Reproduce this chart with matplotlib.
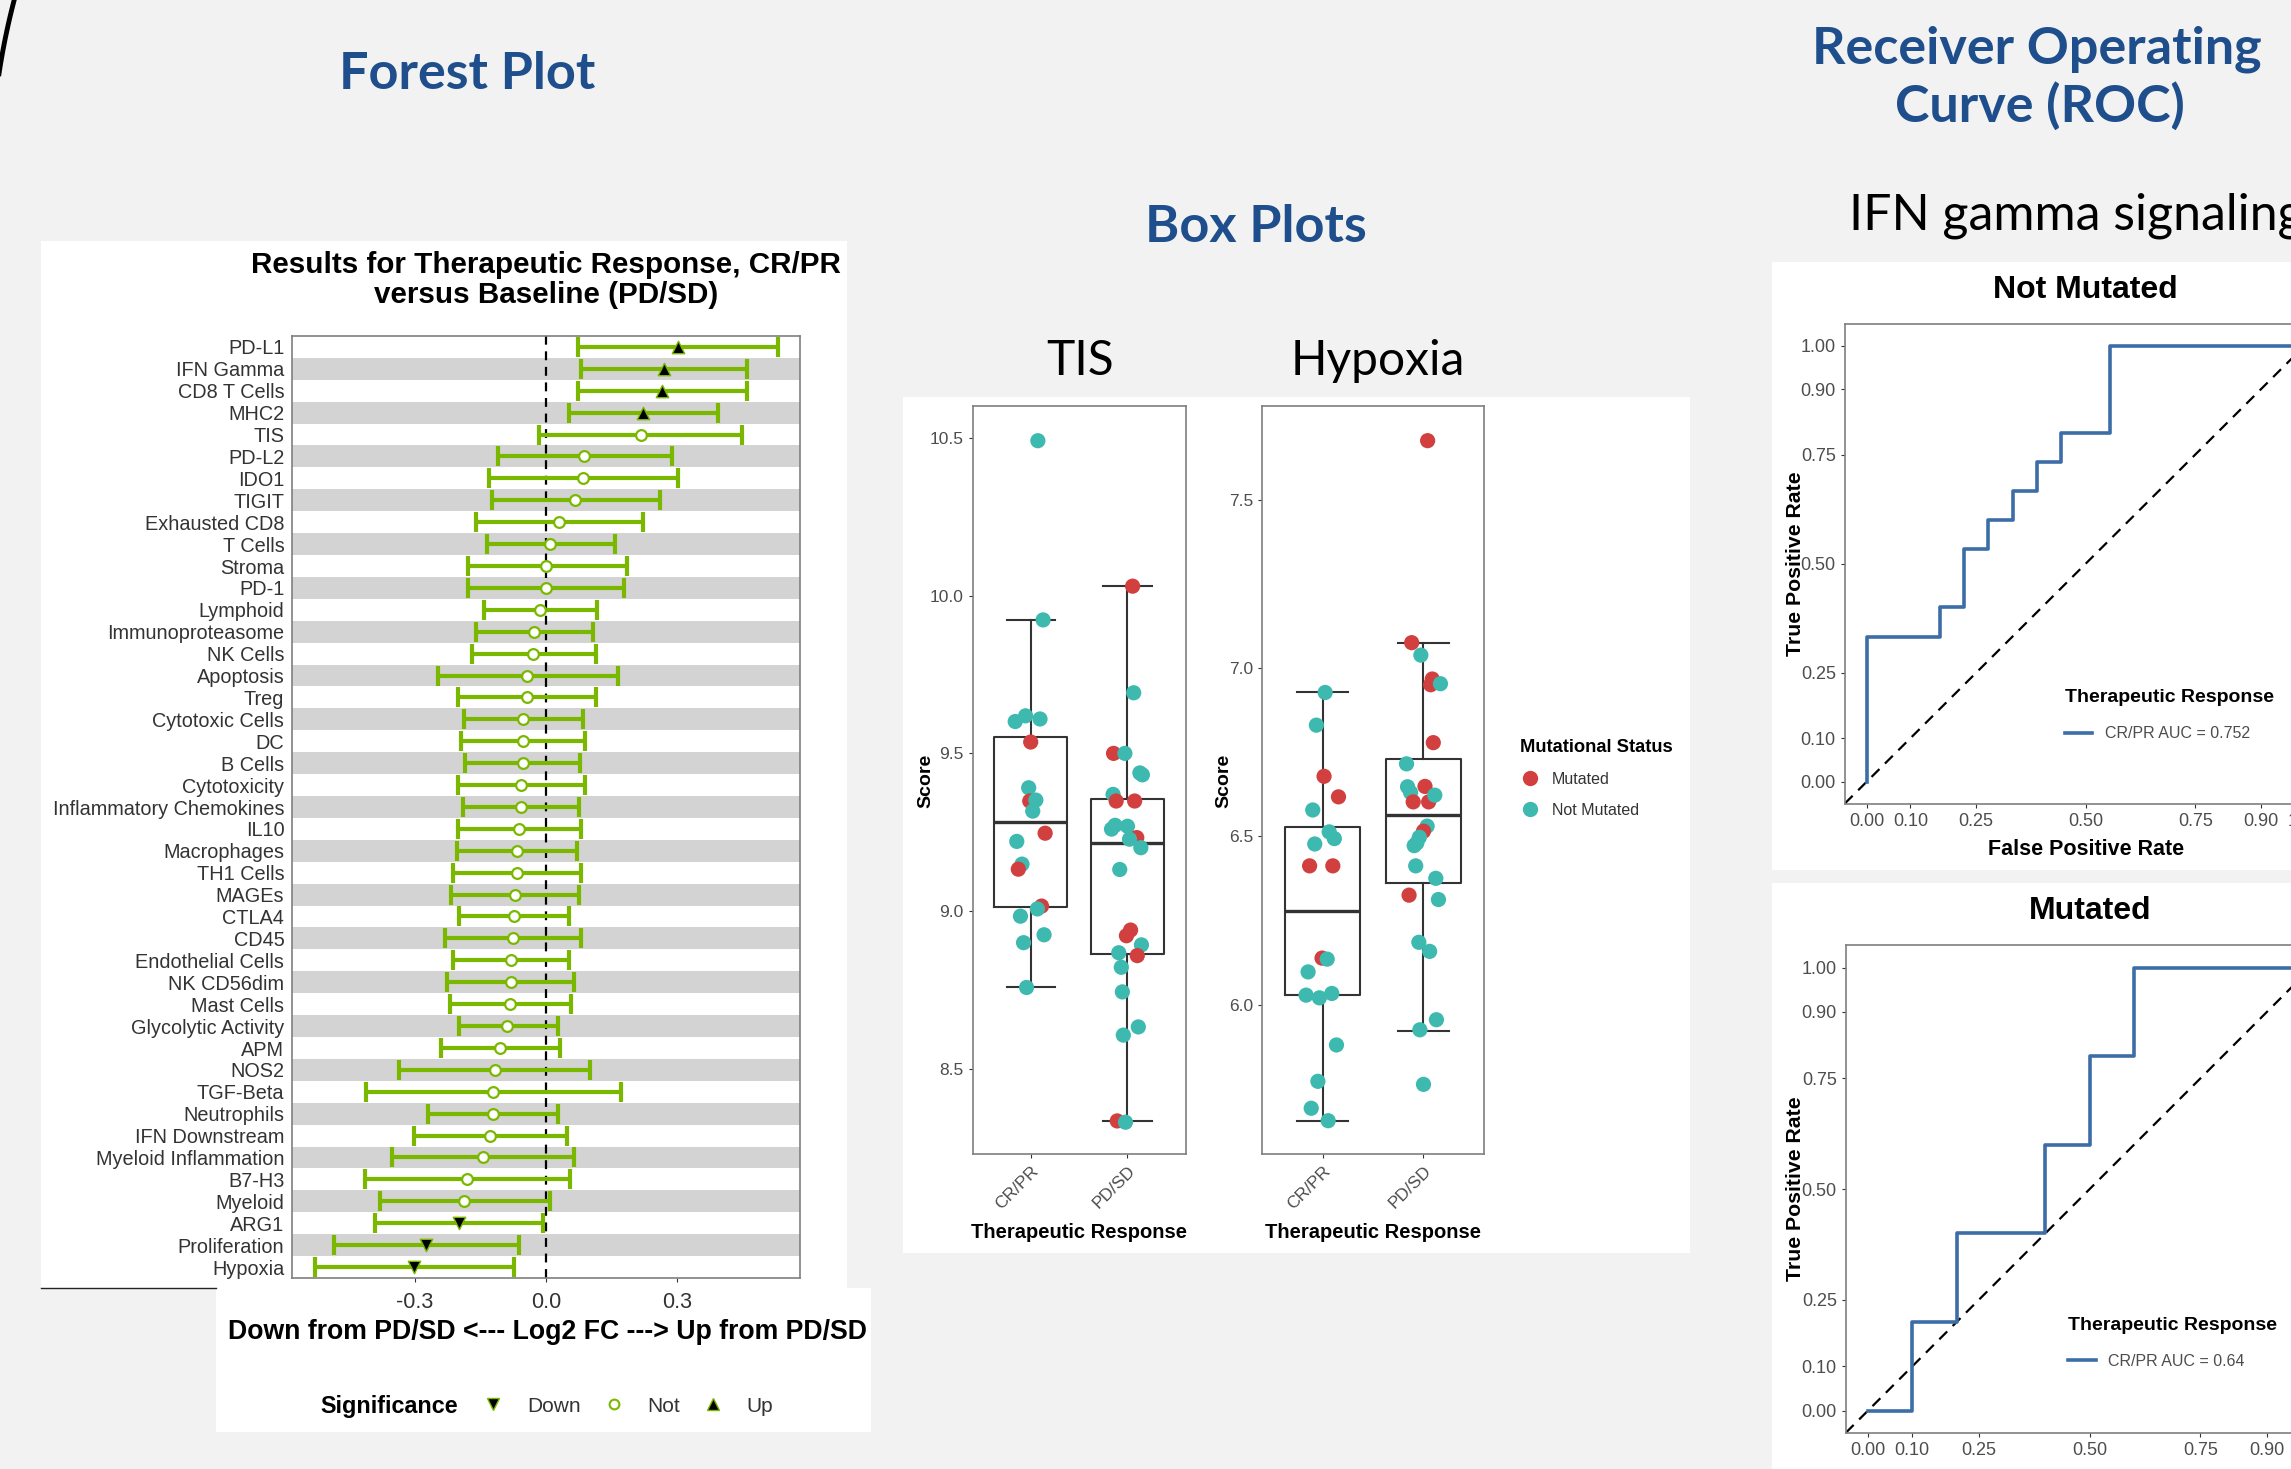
import numpy as np
import matplotlib.pyplot as plt
from matplotlib.patches import Rectangle
from matplotlib.lines import Line2D

W, H = 2291, 1469

# ---- forest plot: log2 FC of CR/PR vs PD/SD with confidence interval ----
genes = ['PD-L1', 'IFN Gamma', 'CD8 T Cells', 'MHC2', 'TIS', 'PD-L2', 'IDO1', 'TIGIT',
         'Exhausted CD8', 'T Cells', 'Stroma', 'PD-1', 'Lymphoid', 'Immunoproteasome',
         'NK Cells', 'Apoptosis', 'Treg', 'Cytotoxic Cells', 'DC', 'B Cells', 'Cytotoxicity',
         'Inflammatory Chemokines', 'IL10', 'Macrophages', 'TH1 Cells', 'MAGEs', 'CTLA4',
         'CD45', 'Endothelial Cells', 'NK CD56dim', 'Mast Cells', 'Glycolytic Activity', 'APM',
         'NOS2', 'TGF-Beta', 'Neutrophils', 'IFN Downstream', 'Myeloid Inflammation', 'B7-H3',
         'Myeloid', 'ARG1', 'Proliferation', 'Hypoxia']
lfc = [0.301, 0.269, 0.265, 0.222, 0.216, 0.086, 0.085, 0.067, 0.030, 0.010, 0.001, 0.000,
       -0.013, -0.027, -0.029, -0.043, -0.043, -0.052, -0.053, -0.053, -0.058, -0.058, -0.061,
       -0.067, -0.067, -0.071, -0.072, -0.075, -0.081, -0.081, -0.082, -0.088, -0.104, -0.117,
       -0.122, -0.122, -0.127, -0.145, -0.180, -0.187, -0.199, -0.273, -0.301]
ci_lo = [0.072, 0.079, 0.074, 0.052, -0.015, -0.110, -0.131, -0.124, -0.161, -0.135, -0.179,
         -0.178, -0.141, -0.160, -0.170, -0.247, -0.202, -0.188, -0.194, -0.184, -0.202, -0.190,
         -0.201, -0.204, -0.212, -0.216, -0.198, -0.230, -0.213, -0.227, -0.220, -0.199, -0.239,
         -0.335, -0.412, -0.270, -0.301, -0.352, -0.414, -0.379, -0.391, -0.484, -0.527]
ci_hi = [0.529, 0.459, 0.458, 0.392, 0.447, 0.288, 0.301, 0.260, 0.222, 0.157, 0.184, 0.179,
         0.117, 0.108, 0.114, 0.164, 0.115, 0.084, 0.089, 0.077, 0.088, 0.076, 0.081, 0.071,
         0.079, 0.075, 0.053, 0.081, 0.053, 0.065, 0.056, 0.027, 0.033, 0.100, 0.171, 0.027,
         0.047, 0.063, 0.055, 0.008, -0.006, -0.061, -0.072]
significance = ['Up'] * 4 + ['Not'] * 36 + ['Down'] * 3

# ---- box plots: signature scores by therapeutic response ----
response_groups = ['CR/PR', 'PD/SD']
# box stats per group: lower whisker, q1, median, q3, upper whisker
tis_stats = [[8.758, 9.012, 9.283, 9.553, 9.923],
             [8.334, 8.865, 9.215, 9.354, 10.030]]
hyp_stats = [[5.655, 6.027, 6.277, 6.527, 6.927],
             [5.922, 6.362, 6.563, 6.728, 7.075]]

tis_cr_score = [10.491, 9.923, 9.601, 9.619, 9.609, 9.536, 9.391, 9.349, 9.352, 9.317,
                9.247, 9.221, 9.149, 9.133, 9.016, 9.007, 8.984, 8.900, 8.925, 8.758]
tis_cr_jitter = [0.074, 0.128, -0.160, -0.053, 0.096, 0.0, -0.021, -0.010, 0.053, 0.021,
                 0.149, -0.144, -0.090, -0.128, 0.112, 0.069, -0.106, -0.074, 0.138, -0.043]
tis_cr_mutated = [0, 0, 0, 0, 0, 1, 0, 1, 0, 0, 1, 0, 0, 1, 1, 0, 0, 0, 0, 0]

tis_pd_score = [10.030, 9.692, 9.500, 9.500, 9.438, 9.432, 9.370, 9.349, 9.349, 9.272, 9.260,
                9.269, 9.233, 9.228, 9.201, 9.132, 8.940, 8.922, 8.893, 8.868, 8.859, 8.822,
                8.744, 8.633, 8.607, 8.335, 8.331]
tis_pd_jitter = [0.053, 0.064, -0.144, -0.027, 0.128, 0.154, -0.149, -0.117, 0.074, -0.128,
                 -0.165, 0.0, 0.096, 0.021, 0.138, -0.080, 0.032, -0.011, 0.144, -0.090, 0.101,
                 -0.064, -0.053, 0.112, -0.043, -0.106, -0.021]
tis_pd_mutated = [1, 0, 1, 0, 0, 0, 0, 1, 1, 0, 0, 0, 1, 0, 0, 0, 1, 1, 0, 0, 1, 0, 0, 0, 0,
                  1, 0]

hyp_cr_score = [6.927, 6.830, 6.678, 6.617, 6.578, 6.513, 6.493, 6.477, 6.412, 6.412, 6.138,
                6.135, 6.097, 6.028, 6.020, 6.033, 5.880, 5.772, 5.692, 5.655]
hyp_cr_jitter = [0.026, -0.061, 0.015, 0.158, -0.097, 0.066, 0.117, -0.077, -0.128, 0.102,
                 -0.005, 0.046, -0.143, -0.163, -0.031, 0.092, 0.138, -0.046, -0.112, 0.056]
hyp_cr_mutated = [0, 0, 1, 1, 0, 0, 0, 0, 1, 1, 1, 0, 0, 0, 0, 0, 0, 0, 0, 0]

hyp_pd_score = [7.675, 7.075, 7.038, 6.967, 6.950, 6.953, 6.778, 6.715, 6.647, 6.630, 6.648,
                6.602, 6.602, 6.622, 6.530, 6.515, 6.497, 6.480, 6.472, 6.412, 6.375, 6.325,
                6.312, 6.185, 6.158, 5.955, 5.925, 5.763]
hyp_pd_jitter = [0.041, -0.117, -0.026, 0.087, 0.071, 0.168, 0.097, -0.168, -0.158, -0.128,
                 0.015, -0.102, 0.051, 0.112, 0.036, 0.0, -0.041, -0.066, -0.092, -0.077, 0.122,
                 -0.143, 0.148, -0.046, 0.061, 0.128, -0.036, 0.0]
hyp_pd_mutated = [1, 1, 0, 1, 1, 0, 1, 0, 0, 0, 1, 1, 1, 0, 0, 1, 0, 0, 0, 0, 0, 1, 0, 0, 0,
                  0, 0, 0]

# ---- ROC curves, IFN gamma signaling ----
nm_fpr = [0, 0, 0.167, 0.167, 0.222, 0.222, 0.278, 0.278, 0.333, 0.333, 0.389, 0.389, 0.444,
          0.444, 0.556, 0.556, 1.0]
nm_tpr = [0, 0.333, 0.333, 0.4, 0.4, 0.533, 0.533, 0.6, 0.6, 0.667, 0.667, 0.733, 0.733, 0.8,
          0.8, 1.0, 1.0]
nm_auc = 0.752
m_fpr = [0, 0.1, 0.1, 0.2, 0.2, 0.4, 0.4, 0.5, 0.5, 0.6, 0.6, 1.0]
m_tpr = [0, 0, 0.2, 0.2, 0.4, 0.4, 0.6, 0.6, 0.8, 0.8, 1.0, 1.0]
m_auc = 0.64
roc_ticks = [0.0, 0.10, 0.25, 0.50, 0.75, 0.90, 1.0]

GREEN = '#7AB800'
RED = '#D13F3F'
TEAL = '#3DB9B0'
NAVY = '#1F4E8C'
ROC_BLUE = '#3D6DA6'
TXT = '#4D4D4D'

plt.rcParams['font.family'] = ['Liberation Sans', 'DejaVu Sans']

fig = plt.figure(figsize=(W / 100 + 0.001, H / 100 + 0.001), dpi=100)
fig.patch.set_facecolor('#F2F2F2')


def px_axes(l, t, r, b):
    return fig.add_axes([l / W, 1 - b / H, (r - l) / W, (b - t) / H])


# slide layer in pixel coordinates
deco = fig.add_axes([0, 0, 1, 1])
deco.set_xlim(0, W)
deco.set_ylim(H, 0)
deco.axis('off')
for l, t, r, b in [(41, 241, 847, 1288), (216, 1288, 871, 1432), (903, 397, 1690, 1253),
                   (1772, 262, 2300, 870), (1772, 883, 2300, 1480)]:
    deco.add_patch(Rectangle((l, t), r - l, b - t, facecolor='white', edgecolor='none'))
deco.plot([41, 216], [1288, 1288], color='#222222', lw=1)
arc_t = np.radians(np.linspace(186, 196, 30))
deco.plot(700 + 709 * np.cos(arc_t), 180 + 709 * np.sin(arc_t), color='black', lw=3.5)

head = dict(family='Lato', fontweight='bold', color=NAVY, fontsize=37.5)
deco.text(467, 89, 'Forest Plot', ha='center', va='baseline', **head)
deco.text(1256, 242, 'Box Plots', ha='center', va='baseline', **head)
deco.text(2037, 63, 'Receiver Operating', ha='center', va='baseline', **head)
deco.text(2040, 122, 'Curve (ROC)', ha='center', va='baseline', **head)
sub = dict(family='Lato', color='black', fontsize=36)
deco.text(1849, 229, 'IFN gamma signaling', ha='left', va='baseline', **sub)
sub['fontsize'] = 34.5
deco.text(1080, 375, 'TIS', ha='center', va='baseline', **sub)
deco.text(1378, 375, 'Hypoxia', ha='center', va='baseline', **sub)

# ---- forest plot ----
ax = px_axes(292, 336, 800, 1278)
y = np.arange(len(genes))
for i in y[1::2]:
    ax.axhspan(i - 0.5, i + 0.5, color='#D3D3D3', lw=0, zorder=0)
ax.axvline(0, color='black', ls=(0, (4, 3)), lw=1.6, zorder=1)
lfc_a, lo_a, hi_a = np.array(lfc), np.array(ci_lo), np.array(ci_hi)
ax.errorbar(lfc_a, y, xerr=[lfc_a - lo_a, hi_a - lfc_a], fmt='none', ecolor=GREEN,
            elinewidth=3, capsize=7.2, capthick=3, zorder=2)
sig = np.array(significance)
sel = sig == 'Not'
ax.scatter(lfc_a[sel], y[sel], marker='o', s=60, facecolor='white', edgecolor=GREEN,
           linewidths=1.6, zorder=3)
sel = sig == 'Up'
ax.scatter(lfc_a[sel], y[sel], marker='^', s=80, facecolor='black', edgecolor=GREEN,
           linewidths=1, zorder=3)
sel = sig == 'Down'
ax.scatter(lfc_a[sel], y[sel], marker='v', s=80, facecolor='black', edgecolor=GREEN,
           linewidths=1, zorder=3)
ax.set_ylim(len(genes) - 0.5, -0.5)
ax.set_xlim(-0.58, 0.58)
ax.set_yticks(y, genes)
ax.set_xticks([-0.3, 0.0, 0.3], ['-0.3', '0.0', '0.3'])
ax.tick_params(axis='y', length=0, pad=5.5, labelsize=14.3, labelcolor='#333333')
ax.tick_params(axis='x', length=3, color='#333333', pad=7, labelsize=15.5, labelcolor='#333333')
for s in ax.spines.values():
    s.set_color('#7F7F7F')
    s.set_linewidth(1.2)

deco.text(546, 280, 'Results for Therapeutic Response, CR/PR\nversus Baseline (PD/SD)',
          ha='center', va='center', fontsize=21.3, fontweight='bold', linespacing=1.12)
deco.text(547, 1332, 'Down from PD/SD <--- Log2 FC ---> Up from PD/SD', ha='center',
          va='center', fontsize=19.2, fontweight='bold')
deco.text(320, 1406, 'Significance', ha='left', va='center', fontsize=16.8, fontweight='bold')
sig_handles = [
    Line2D([], [], ls='none', marker='v', ms=9, mfc='black', mec=GREEN, mew=1),
    Line2D([], [], ls='none', marker='o', ms=7, mfc='white', mec=GREEN, mew=1.5),
    Line2D([], [], ls='none', marker='^', ms=9, mfc='black', mec=GREEN, mew=1),
]
fig.legend(sig_handles, ['Down', 'Not', 'Up'], loc='center left',
           bbox_to_anchor=(483 / W, 1 - 1406 / H), ncol=3, frameon=False, fontsize=15,
           handlelength=1, handletextpad=1.1, columnspacing=1.1, borderpad=0,
           borderaxespad=0, labelcolor='#333333')


# ---- box plots ----
def score_panel(box, stats, groups, ylim, yticks):
    a = px_axes(*box)
    bx = [dict(whislo=s[0], q1=s[1], med=s[2], q3=s[3], whishi=s[4], fliers=[]) for s in stats]
    a.bxp(bx, positions=[1, 2], widths=0.75, capwidths=0.5, showfliers=False,
          boxprops=dict(color='#333333', lw=1.5), whiskerprops=dict(color='#333333', lw=1.5),
          capprops=dict(color='#333333', lw=1.5), medianprops=dict(color='#333333', lw=2.4))
    for pos, (score, jit, mut) in zip([1, 2], groups):
        cols = [RED if m else TEAL for m in mut]
        a.scatter(pos + np.array(jit), score, s=120, c=cols, lw=0, zorder=3)
    a.set_xlim(0.4, 2.6)
    a.set_ylim(*ylim)
    a.set_yticks(yticks, [f'{v:.1f}' for v in yticks])
    a.set_xticks([1, 2], response_groups, rotation=45, ha='right', rotation_mode='anchor')
    a.tick_params(length=3, color='#333333', labelsize=12.5, labelcolor=TXT)
    for s in a.spines.values():
        s.set_color('#7F7F7F')
        s.set_linewidth(1.2)
    a.set_ylabel('Score', fontsize=14, fontweight='bold')
    a.set_xlabel('Therapeutic Response', fontsize=14.5, fontweight='bold')
    a.xaxis.set_label_coords(0.5, -0.092)
    return a


ax_tis = score_panel((972.6, 406.4, 1185.5, 1154.4), tis_stats,
                     [(tis_cr_score, tis_cr_jitter, tis_cr_mutated),
                      (tis_pd_score, tis_pd_jitter, tis_pd_mutated)],
                     (8.229, 10.60), [8.5, 9.0, 9.5, 10.0, 10.5])
ax_tis.yaxis.set_label_coords(-0.178, 0.5)
ax_hyp = score_panel((1261.9, 406.4, 1484, 1154.4), hyp_stats,
                     [(hyp_cr_score, hyp_cr_jitter, hyp_cr_mutated),
                      (hyp_pd_score, hyp_pd_jitter, hyp_pd_mutated)],
                     (5.555, 7.777), [6.0, 6.5, 7.0, 7.5])
ax_hyp.yaxis.set_label_coords(-0.135, 0.5)

mut_handles = [Line2D([], [], ls='none', marker='o', ms=11, mfc=c, mec='none')
               for c in (RED, TEAL)]
fig.legend(mut_handles, ['Mutated', 'Not Mutated'], loc='upper left',
           bbox_to_anchor=(1512 / W, 1 - 731 / H), frameon=False, fontsize=11.5,
           title='Mutational Status', title_fontproperties=dict(weight='bold', size=13.2),
           alignment='left', handlelength=1.2, handletextpad=0.8, labelspacing=1.0,
           borderpad=0, labelcolor='#333333')


# ---- ROC curves ----
def roc_panel(box, title, fpr, tpr, auc, show_xlabel):
    a = px_axes(*box)
    a.axline((0, 0), slope=1, color='black', ls=(0, (5, 3.5)), lw=1.6)
    a.plot(fpr, tpr, color=ROC_BLUE, lw=2.6, label=f'CR/PR AUC = {auc}')
    a.set_xlim(-0.05, 1.05)
    a.set_ylim(-0.05, 1.05)
    labels = ['0.00', '0.10', '0.25', '0.50', '0.75', '0.90', '1.00']
    a.set_xticks(roc_ticks, labels)
    a.set_yticks(roc_ticks, labels)
    a.tick_params(length=3, color='#333333', labelsize=13, labelcolor=TXT)
    for s in a.spines.values():
        s.set_color('#7F7F7F')
        s.set_linewidth(1.2)
    a.set_title(title, fontsize=23, fontweight='bold', pad=19)
    a.set_ylabel('True Positive Rate', fontsize=15.3, fontweight='bold')
    a.yaxis.set_label_coords(-0.083, 0.5)
    if show_xlabel:
        a.set_xlabel('False Positive Rate', fontsize=15.5, fontweight='bold', labelpad=7)
    a.legend(loc='upper left', bbox_to_anchor=(0.44, 0.255), frameon=False, fontsize=11.5,
             title='Therapeutic Response', title_fontproperties=dict(weight='bold', size=14),
             alignment='left', handlelength=1.7, handletextpad=0.8, labelspacing=1.25,
             borderpad=0, labelcolor=TXT)
    return a


roc_panel((1844.7, 323.9, 2326.5, 803.6), 'Not Mutated', nm_fpr, nm_tpr, nm_auc, True)
roc_panel((1845.7, 945.4, 2333.4, 1432.8), 'Mutated', m_fpr, m_tpr, m_auc, False)

fig.savefig('out.png', dpi=100, facecolor=fig.get_facecolor())
